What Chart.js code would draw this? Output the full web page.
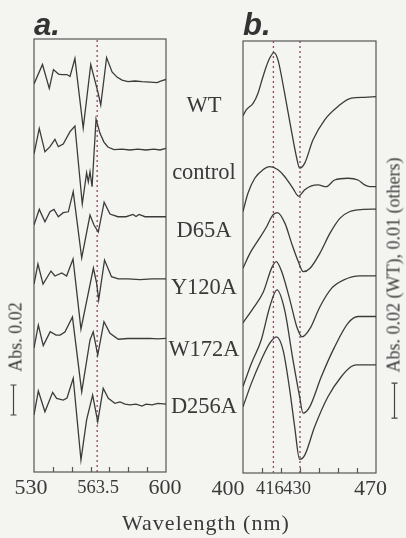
<!DOCTYPE html>
<html>
<head>
<meta charset="utf-8">
<script src="https://cdn.jsdelivr.net/npm/chart.js@4/dist/chart.umd.min.js"></script>
<style>
  html, body { margin:0; padding:0; background:#f4f4f1; }
  #wrap { position:relative; width:406px; height:538px; overflow:hidden; font-family:"Liberation Serif", serif; color:#3a3a3a; }
  canvas { position:absolute; top:0; }
  .lbl { position:absolute; font-size:22.5px; transform:translate(-50%,-50%); white-space:nowrap; }
  .pan { position:absolute; font-family:"Liberation Sans", Arial, sans-serif; font-weight:bold; font-style:italic; font-size:31px; color:#333; }
  .rot { position:absolute; font-size:18px; white-space:nowrap; transform:translate(-50%,-50%) rotate(-90deg); }
  #xt { position:absolute; left:206px; top:523px; transform:translate(-50%,-50%); font-size:22px; letter-spacing:1px; white-space:nowrap; }
</style>
</head>
<body>
<div id="wrap">
  <canvas id="ca" width="200" height="538" style="left:0;width:200px;height:538px"></canvas>
  <canvas id="cb" width="206" height="538" style="left:200px;width:206px;height:538px"></canvas>
  <div class="pan" style="left:34px;top:7px">a.</div>
  <div class="pan" style="left:243px;top:7px">b.</div>
  <div id="labels"></div>
  <div class="rot" style="left:16px;top:337px">Abs. 0.02</div>
  <div class="rot" style="left:394px;top:265px">Abs. 0.02 (WT), 0.01 (others)</div>
  <div id="xt">Wavelength (nm)</div>
</div>
<script>
// ---------- data ----------
const sampleNames = ["WT", "control", "D65A", "Y120A", "W172A", "D256A"];

// panel a: [wavelength nm, offset absorbance (mAbs)]
const a_WT = [[530,258.7],[534.5,271.7],[538.1,255.8],[540.3,268.3],[543.0,265.3],[544.8,265.0],[547.5,265.0],[549.1,263.7],[551.7,275.7],[556.1,229.3],[560.1,271.7],[562.1,262.0],[563.9,253.3],[565.4,244.7],[568.5,276.3],[571.4,266.7],[574.0,263.3],[576.7,261.3],[579.8,260.3],[583.6,260.7],[587.3,260.3],[591.5,260.0],[595.2,259.6],[597.9,261.0],[600,261.7]];
const a_control = [[530,212.0],[532.8,229.1],[535.8,213.5],[538.5,216.9],[541.1,221.8],[542.9,216.9],[545.5,218.7],[549.1,226.9],[551.7,230.7],[555.6,178.7],[557.9,199.5],[558.8,193.5],[559.7,200.2],[560.8,190.2],[562.9,235.3],[565.0,225.8],[567.1,220.0],[569.2,216.7],[572.4,215.0],[576.7,215.3],[580.9,214.7],[585.1,215.3],[589.4,214.7],[593.6,215.3],[596.8,214.7],[600,215.8]];
const a_D65A = [[530,164.7],[532.8,175.1],[535.8,166.9],[538.5,173.5],[540.6,175.1],[542.9,170.2],[545.5,172.9],[548.2,173.5],[550.8,186.9],[555.3,142.7],[559.7,171.3],[561.8,164.7],[564.1,160.0],[567.2,179.9],[570.3,172.0],[574.5,170.2],[578.8,170.2],[582.5,171.7],[584.1,170.3],[585.7,171.7],[588.9,170.2],[594.2,170.2],[600,170.2]];
const a_Y120A = [[530,125.3],[532.1,138.7],[534.8,125.3],[539.0,134.0],[541.1,130.7],[544.7,132.7],[547.3,130.7],[550.7,142.0],[554.9,95.3],[561.5,136.0],[563.2,126.0],[564.3,114.7],[567.4,141.3],[571.1,130.2],[574.7,128.7],[579.8,128.7],[586.2,128.3],[592.6,128.7],[600,128.7]];
const a_W172A = [[530,82.7],[532.3,98.0],[534.9,84.3],[538.6,93.5],[541.7,91.3],[543.8,91.3],[546.4,93.3],[550.4,103.3],[555.3,53.5],[559.7,88.0],[561.4,93.5],[563.8,78.0],[567.1,100.2],[570.3,92.5],[574.7,88.5],[579.8,89.0],[586.2,89.0],[591.5,89.1],[595.7,88.7],[600,89.1]];
const a_D256A = [[530,38.0],[532.3,54.0],[535.8,40.2],[539.9,53.1],[542.0,49.1],[545.5,48.0],[547.5,49.3],[550.8,62.5],[554.9,8.0],[557.9,34.7],[561.1,51.3],[563.8,33.5],[566.7,55.8],[569.4,49.1],[572.9,45.8],[575.6,46.7],[578.3,45.3],[580.9,44.7],[584.1,45.3],[587.3,44.0],[589.4,45.3],[592.6,44.7],[595.7,45.7],[600,45.3]];

// panel b: [wavelength nm, offset absorbance (0.1 mAbs units)]
const b_WT = [[400,102.0],[401.7,103.7],[405.3,105.6],[407.9,108.5],[410.5,113.2],[413.2,117.5],[416.3,120.1],[418.4,118.0],[421.9,108.5],[425.4,98.0],[428.1,90.4],[429.8,87.1],[432.5,88.5],[436.8,95.1],[443.0,100.9],[450.0,104.7],[457.0,107.1],[464.1,107.3],[470,107.5]];
const b_control = [[400,74.7],[402.6,79.9],[406.2,84.2],[410.5,86.6],[414.1,87.5],[418.4,86.6],[421.9,84.7],[426.3,81.3],[429.3,79.1],[432.5,80.9],[436.0,82.0],[439.5,82.3],[443.8,81.8],[448.2,83.7],[455.3,84.2],[460.5,83.7],[464.0,82.3],[466.7,81.8],[470,81.8]];
const b_D65A = [[400,58.5],[403.7,62.8],[408.1,66.6],[412.5,70.4],[415.3,73.4],[418.1,74.4],[422.1,71.3],[425.6,65.6],[429.1,60.4],[431.7,57.5],[435.3,58.5],[440.5,62.8],[445.8,68.5],[451.1,72.8],[456.3,74.7],[463.3,75.3],[470,75.4]];
const b_Y120A = [[400,42.9],[405.4,47.1],[410.7,51.7],[415.1,58.6],[417.5,60.4],[420.4,57.5],[424.7,49.4],[428.3,41.8],[431.1,38.9],[435.3,41.3],[440.5,47.5],[446.7,52.8],[452.8,55.1],[461.6,56.3],[470,56.3]];
const b_W172A = [[400,24.7],[404.4,31.3],[409.6,38.0],[414.1,47.5],[417.9,52.3],[421.9,46.6],[426.3,32.3],[429.8,21.8],[431.6,17.1],[435.1,18.9],[441.2,27.5],[448.3,36.1],[455.3,42.8],[460.5,44.7],[470,44.7]];
const b_D256A = [[400,18.9],[404.4,25.6],[409.6,32.3],[414.1,37.1],[417.5,38.9],[421.1,35.1],[424.6,23.7],[427.2,13.2],[429.8,3.9],[432.5,5.1],[437.7,13.2],[444.7,21.8],[451.7,27.5],[457.0,30.4],[459.6,30.9],[470,30.9]];

const markerA = [563.5];
const markerB = [416, 430];
const ticksA = [530, 563.5, 600];
const ticksB = [400, 416, 430, 470];
const minorA = [540, 550, 560, 570, 580, 590];
const minorB = [410, 420, 430, 440, 450, 460];
const rangeA = [530, 600, 0, 288.7];
const rangeB = [400, 470, 0, 123.4];
const scaleBarA = [38, 58];      // 0.02 Abs
const scaleBarB = [15.7, 25.7];  // 0.01 Abs (others)

// ---------- style / layout ----------
const labelY = [105, 172, 230, 287, 349, 406];
const tickStyleA = { shift: [-3, 1, -1], size: [22, 18.5, 22] };
const tickStyleB = { shift: [-15, -3.5, -3, -5.5], size: [22, 18.5, 18.5, 22] };

const lab = document.getElementById('labels');
sampleNames.forEach((n, i) => {
  const d = document.createElement('div');
  d.className = 'lbl'; d.textContent = n;
  d.style.left = '204px'; d.style.top = labelY[i] + 'px';
  lab.appendChild(d);
});

const LINE = '#3b3b3b';
const DOT = '#8a4868';

function toXY(arr) { return arr.map(p => ({x: p[0], y: p[1]})); }

function makeChart(id, series, markers, ticks, tickStyle, minor, range, pad, bar, barX, smooth) {
  const ds = series.map(s => ({
    data: toXY(s), borderColor: LINE, borderWidth: 1.3, pointRadius: 0,
    tension: smooth ? 0.4 : 0, cubicInterpolationMode: smooth ? 'monotone' : 'default', fill: false
  }));
  markers.forEach(m => ds.push({
    data: [{x: m, y: range[2]}, {x: m, y: range[3]}], borderColor: DOT, borderWidth: 1.3,
    borderDash: [2, 3], pointRadius: 0
  }));
  const deco = {
    id: 'deco',
    beforeDatasetsDraw(c) {
      const {ctx, chartArea: a, scales: {x}} = c;
      ctx.save();
      ctx.strokeStyle = '#555'; ctx.lineWidth = 1.2;
      ctx.strokeRect(a.left, a.top, a.right - a.left, a.bottom - a.top);
      ctx.beginPath();
      minor.forEach(v => { const px = Math.round(x.getPixelForValue(v)) + 0.5; ctx.moveTo(px, a.bottom); ctx.lineTo(px, a.bottom - 5); });
      ctx.stroke();
      ctx.restore();
    },
    afterDatasetsDraw(c) {
      const {ctx, chartArea: a, scales: {x, y}} = c;
      ctx.save();
      ctx.strokeStyle = '#444'; ctx.lineWidth = 1.2;
      const y0 = y.getPixelForValue(bar[0]), y1 = y.getPixelForValue(bar[1]);
      ctx.beginPath();
      ctx.moveTo(barX, y0); ctx.lineTo(barX, y1);
      ctx.moveTo(barX - 3, y0); ctx.lineTo(barX + 3, y0);
      ctx.moveTo(barX - 3, y1); ctx.lineTo(barX + 3, y1);
      ctx.stroke();
      // tick labels
      ctx.fillStyle = '#3a3a3a';
      ctx.textAlign = 'center'; ctx.textBaseline = 'middle';
      ticks.forEach((v, i) => {
        ctx.font = tickStyle.size[i] + 'px "Liberation Serif", serif';
        ctx.fillText(String(v), x.getPixelForValue(v) + tickStyle.shift[i], a.bottom + 16);
      });
      ctx.restore();
    }
  };
  return new Chart(document.getElementById(id), {
    type: 'line',
    data: { datasets: ds },
    options: {
      responsive: false, animation: false, devicePixelRatio: 1,
      layout: { padding: pad },
      plugins: { legend: { display: false }, tooltip: { enabled: false } },
      scales: {
        x: { type: 'linear', min: range[0], max: range[1], display: false },
        y: { type: 'linear', min: range[2], max: range[3], display: false }
      }
    },
    plugins: [deco]
  });
}

makeChart('ca', [a_WT, a_control, a_D65A, a_Y120A, a_W172A, a_D256A], markerA, ticksA, tickStyleA, minorA, rangeA,
  {left: 34, right: 34, top: 39, bottom: 66}, scaleBarA, 13.5, false);
makeChart('cb', [b_WT, b_control, b_D65A, b_Y120A, b_W172A, b_D256A], markerB, ticksB, tickStyleB, minorB, rangeB,
  {left: 43, right: 30, top: 41, bottom: 65}, scaleBarB, 194.5, true);
</script>
</body>
</html>
